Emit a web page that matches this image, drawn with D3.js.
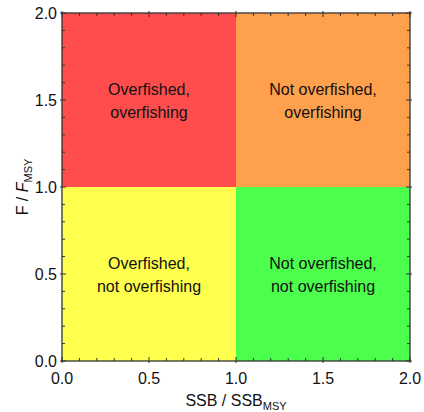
<!DOCTYPE html>
<html>
<head>
<meta charset="utf-8">
<script src="https://cdn.jsdelivr.net/npm/d3@7"></script>
<style>
  body { margin: 0; background: #fff; }
  text { font-family: "Liberation Sans", Arial, sans-serif; }
</style>
</head>
<body>
<div id="chart"></div>
<script>
const width = 424,
    height = 412;

const margin = {top: 13, right: 14, bottom: 51, left: 62};

// quadrants: x range, y range (in SSB/SSBmsy and F/Fmsy units)
const zoneNames = ["Overfished,\noverfishing", "Not overfished,\noverfishing", "Overfished,\nnot overfishing", "Not overfished,\nnot overfishing"];
const zoneX0 = [0, 1, 0, 1];
const zoneX1 = [1, 2, 1, 2];
const zoneY0 = [1, 1, 0, 0];
const zoneY1 = [2, 2, 1, 1];
const zoneColors = ["#ff4d4d", "#ffa04d", "#ffff4d", "#4dff4d"];

const majorTicks = [0, 0.5, 1.0, 1.5, 2.0];
const minorTicks = d3.range(0, 21).map(i => i / 10);

const svg = d3.select("#chart")
  .append("svg")
  .attr("width", width)
  .attr("height", height);

const x = d3.scaleLinear().domain([0, 2]).range([margin.left, width - margin.right]);
const y = d3.scaleLinear().domain([0, 2]).range([height - margin.bottom, margin.top]);

const zones = zoneNames.map((name, i) => ({
    name: name, x0: zoneX0[i], x1: zoneX1[i], y0: zoneY0[i], y1: zoneY1[i], color: zoneColors[i]
}));

svg.selectAll('.zone')
  .data(zones)
  .enter().append('rect')
  .attr('class', 'zone')
  .attr('x', d => x(d.x0))
  .attr('y', d => y(d.y1))
  .attr('width', d => x(d.x1) - x(d.x0))
  .attr('height', d => y(d.y0) - y(d.y1))
  .attr('fill', d => d.color);

const labels = svg.selectAll('.zone-label')
  .data(zones)
  .enter().append('text')
  .attr('class', 'zone-label')
  .attr('text-anchor', 'middle')
  .attr('font-size', 16)
  .attr('fill', '#111');

labels.each(function(d) {
    const lines = d.name.split("\n");
    const cx = (x(d.x0) + x(d.x1)) / 2,
        cy = (y(d.y0) + y(d.y1)) / 2;
    d3.select(this).selectAll('tspan')
      .data(lines)
      .enter().append('tspan')
      .attr('x', cx)
      .attr('y', (l, j) => cy + (j - 0.5) * 23 + 6)
      .text(l => l);
});

// frame
const axisColor = "#333";
svg.append('rect')
  .attr('x', x(0)).attr('y', y(2))
  .attr('width', x(2) - x(0)).attr('height', y(0) - y(2))
  .attr('fill', 'none')
  .attr('stroke', axisColor)
  .attr('stroke-width', 1.3);

// minor ticks, inward on all four sides
const minor = minorTicks.filter(t => majorTicks.indexOf(t) < 0);
const tickG = svg.append('g').attr('stroke', axisColor).attr('stroke-width', 1);

minor.forEach(t => {
    tickG.append('line').attr('x1', x(t)).attr('x2', x(t)).attr('y1', y(0)).attr('y2', y(0) - 3);
    tickG.append('line').attr('x1', x(t)).attr('x2', x(t)).attr('y1', y(2)).attr('y2', y(2) + 3);
    tickG.append('line').attr('y1', y(t)).attr('y2', y(t)).attr('x1', x(0)).attr('x2', x(0) + 3);
    tickG.append('line').attr('y1', y(t)).attr('y2', y(t)).attr('x1', x(2)).attr('x2', x(2) - 3);
});

// major ticks cross the frame
majorTicks.forEach(t => {
    tickG.append('line').attr('x1', x(t)).attr('x2', x(t)).attr('y1', y(0) + 2).attr('y2', y(0) - 4);
    tickG.append('line').attr('x1', x(t)).attr('x2', x(t)).attr('y1', y(2) - 2).attr('y2', y(2) + 4);
    tickG.append('line').attr('y1', y(t)).attr('y2', y(t)).attr('x1', x(0) - 2).attr('x2', x(0) + 4);
    tickG.append('line').attr('y1', y(t)).attr('y2', y(t)).attr('x1', x(2) + 2).attr('x2', x(2) - 4);
});

// tick labels
svg.selectAll('.xtick')
  .data(majorTicks)
  .enter().append('text')
  .attr('class', 'xtick')
  .attr('x', d => x(d))
  .attr('y', y(0) + 23)
  .attr('text-anchor', 'middle')
  .attr('font-size', 16)
  .attr('fill', '#111')
  .text(d => d3.format(".1f")(d));

svg.selectAll('.ytick')
  .data(majorTicks)
  .enter().append('text')
  .attr('class', 'ytick')
  .attr('x', x(0) - 5)
  .attr('y', d => y(d) + 6)
  .attr('text-anchor', 'end')
  .attr('font-size', 16)
  .attr('fill', '#111')
  .text(d => d3.format(".1f")(d));

// axis titles
const xt = svg.append('text')
  .attr('x', (x(0) + x(2)) / 2)
  .attr('y', height - 6)
  .attr('text-anchor', 'middle')
  .attr('font-size', 16)
  .attr('fill', '#111');
xt.append('tspan').text('SSB / SSB');
xt.append('tspan').attr('font-size', 11).attr('dy', 4).text('MSY');

const yt = svg.append('text')
  .attr('transform', 'translate(28,' + ((y(0) + y(2)) / 2) + ') rotate(-90)')
  .attr('text-anchor', 'middle')
  .attr('font-size', 16)
  .attr('fill', '#111');
yt.append('tspan').text('F / ');
yt.append('tspan').attr('font-style', 'italic').text('F');
yt.append('tspan').attr('font-size', 11).attr('dy', 4).text('MSY');
</script>
</body>
</html>
